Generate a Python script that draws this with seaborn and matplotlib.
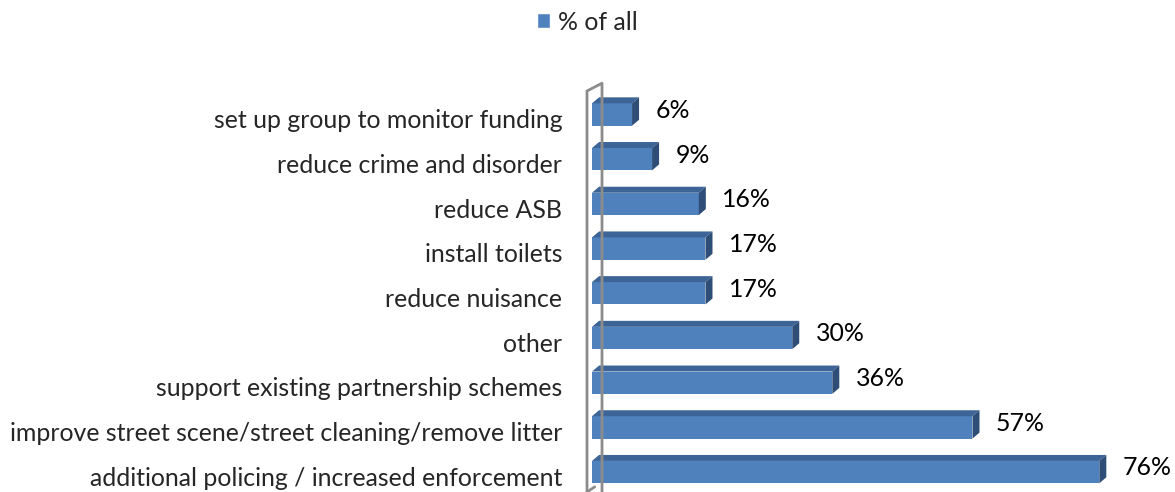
import matplotlib
matplotlib.use('Agg')
import matplotlib.pyplot as plt
import matplotlib.transforms as mtransforms
import seaborn as sns
import pandas as pd
from matplotlib.patches import Polygon
from matplotlib.lines import Line2D

categorias = [
    'set up group to monitor funding',
    'reduce crime and disorder',
    'reduce ASB',
    'install toilets',
    'reduce nuisance',
    'other',
    'support existing partnership schemes',
    'improve street scene/street cleaning/remove litter',
    'additional policing / increased enforcement',
]
valores = [6, 9, 16, 17, 17, 30, 36, 57, 76]
rotulos = ['6%', '9%', '16%', '17%', '17%', '30%', '36%', '57%', '76%']
serie = '% of all'

COR_FRENTE = '#4F81BD'
COR_TOPO = '#3C6496'
COR_LADO = '#2E4E78'
COR_PAREDE = '#8C8C8C'
FONTE = 17.9


def gerar_grafico():
    df = pd.DataFrame({'categoria': categorias, 'valor': valores})
    sns.set_theme(style='white')
    plt.rcParams['font.family'] = ['Lato', 'DejaVu Sans']

    fig = plt.figure(figsize=(11.75, 4.92), dpi=100)
    ax = fig.add_axes([592 / 1175, 0.0, 534 / 1175, 410 / 492])

    sns.barplot(data=df, y='categoria', x='valor', orient='h', color=COR_FRENTE,
                width=0.5, saturation=1, ax=ax, edgecolor='none')

    y_baixo, y_cima = 8.445, -0.727
    ax.set_xlim(0, 80)
    ax.set_ylim(y_baixo, y_cima)

    # faces 3D (topo e lado direito) a partir das barras
    dx, dy = 1.05, 0.134
    for barra in list(ax.patches):
        x0 = barra.get_x()
        x1 = x0 + barra.get_width()
        y_top = barra.get_y()
        y_bot = y_top + barra.get_height()
        topo = Polygon([(x0, y_top), (x1, y_top), (x1 + dx, y_top - dy), (x0 + dx, y_top - dy)],
                       closed=True, facecolor=COR_TOPO, edgecolor='none')
        lado = Polygon([(x1, y_top), (x1 + dx, y_top - dy), (x1 + dx, y_bot - dy), (x1, y_bot)],
                       closed=True, facecolor=COR_LADO, edgecolor='none')
        ax.add_patch(topo)
        ax.add_patch(lado)

    # rótulos de dados
    for i, (v, r) in enumerate(zip(valores, rotulos)):
        ax.annotate(r, xy=(v, i), xytext=(17, 3), textcoords='offset points',
                    va='center', ha='left', fontsize=FONTE, color='black')

    # parede lateral (linhas cinza)
    parede = [
        Line2D([-0.75, -0.75, 1.5, 1.5], [y_baixo, -0.526, -0.7, y_baixo], color=COR_PAREDE, lw=2),
        Line2D([-0.75, 0.4], [y_baixo, 8.33], color=COR_PAREDE, lw=2),
    ]
    for linha in parede:
        linha.set_clip_on(False)
        ax.add_line(linha)

    ax.set_xlabel('')
    ax.set_ylabel('')
    ax.set_xticks([])
    ax.tick_params(axis='y', length=0, pad=21.5, labelsize=FONTE)
    desloc = mtransforms.ScaledTranslation(0, -3 / 72, fig.dpi_scale_trans)
    for rotulo in ax.get_yticklabels():
        rotulo.set_transform(rotulo.get_transform() + desloc)
    for lado_eixo in ax.spines.values():
        lado_eixo.set_visible(False)

    # legenda
    handle = plt.Rectangle((0, 0), 1, 1, facecolor=COR_FRENTE)
    fig.legend([handle], [serie], loc='center', bbox_to_anchor=(587 / 1175, 1 - 22 / 492),
               frameon=False, fontsize=FONTE, handlelength=0.55, handleheight=0.55,
               handletextpad=0.3)

    fig.savefig('out.png', dpi=100)
    plt.close(fig)


if __name__ == '__main__':
    gerar_grafico()
